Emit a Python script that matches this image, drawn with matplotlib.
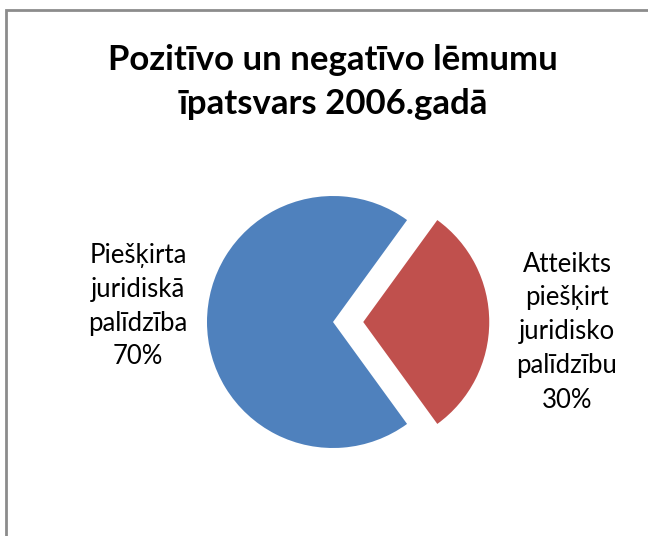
import numpy as np
import matplotlib
matplotlib.use("Agg")
from matplotlib import pyplot as plt

# dati
kategorijas = ["Atteikts\npiešķirt\njuridisko\npalīdzību", "Piešķirta\njuridiskā\npalīdzība"]
vertibas = [30, 70]
krasas = ["#C0504D", "#4F81BD"]
virsraksts = "Pozitīvo un negatīvo lēmumu\nīpatsvars 2006.gadā"

plt.rcParams['font.family'] = ['Lato', 'DejaVu Sans']

W, H = 648, 536
fig = plt.figure(figsize=(W/100, H/100), dpi=100)
ax = fig.add_axes([0, 0, 1, 1])

cx, cy, r = 333, H - 322, 126
sakums = -vertibas[0] / 100 * 360 / 2
ax.pie(vertibas, colors=krasas, startangle=sakums, counterclock=True,
       explode=[0.24*r, 0], center=(cx, cy), radius=r,
       wedgeprops=dict(linewidth=0))
ax.set_xlim(0, W)
ax.set_ylim(0, H)
ax.set_aspect('equal')
ax.axis('off')

# etiķetes
ax.text(567, H - 332, kategorijas[0] + "\n%d%%" % vertibas[0], ha='center', va='center',
        fontsize=18.5, linespacing=1.45, color='black')
ax.text(138, H - 306, kategorijas[1] + "\n%d%%" % vertibas[1], ha='center', va='center',
        fontsize=18.5, linespacing=1.45, color='black')

fig.text(333/W, 1 - 82/H, virsraksts, ha='center', va='center', fontsize=25,
         fontweight='bold', linespacing=1.45)

# rāmis
fig.patches.append(plt.Rectangle((6/W, -0.1), 2, 1.1 - 10/H, transform=fig.transFigure,
                                 fill=False, edgecolor='#8c8c8c', linewidth=2))

fig.savefig("out.png", dpi=100)
